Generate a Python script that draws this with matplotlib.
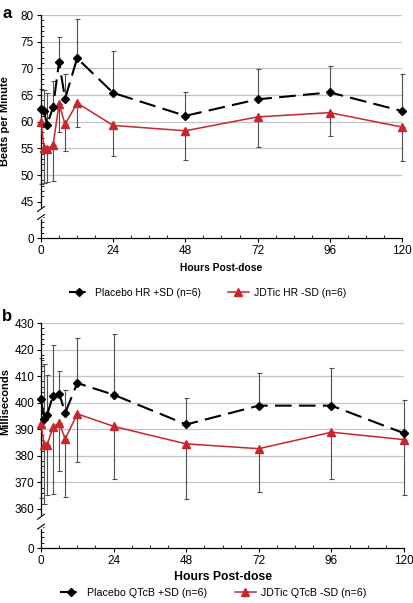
import numpy as np
import matplotlib
matplotlib.use('Agg')
import matplotlib.pyplot as plt

plt.rcParams['font.family'] = ['Liberation Sans', 'DejaVu Sans']

# Data
hours = [0, 1, 2, 4, 6, 8, 12, 24, 48, 72, 96, 120]

placebo_hr = [62.4, 62.0, 59.4, 62.7, 71.2, 64.3, 71.9, 65.4, 61.1, 64.2, 65.5, 62.0]
placebo_hr_sd = [3.8, 4.0, 6.0, 4.9, 4.7, 4.7, 7.4, 7.9, 4.5, 5.6, 5.0, 6.9]
jdtic_hr = [60.0, 55.1, 54.9, 55.6, 63.3, 59.5, 63.5, 59.3, 58.3, 60.9, 61.7, 59.0]
jdtic_hr_sd = [11.7, 6.6, 6.2, 6.7, 5.3, 4.9, 4.5, 5.7, 5.4, 5.7, 4.3, 6.4]

placebo_qtcb = [401.5, 394.0, 395.5, 402.7, 403.4, 396.2, 407.4, 403.0, 391.8, 398.9, 398.9, 388.5]
placebo_qtcb_sd = [15.3, 20.6, 15.1, 19.1, 8.6, 8.5, 17.0, 23.0, 10.0, 12.1, 14.1, 12.5]
jdtic_qtcb = [392.1, 384.1, 384.1, 390.9, 392.4, 386.4, 395.8, 391.1, 384.5, 382.7, 388.9, 386.1]
jdtic_qtcb_sd = [28.0, 22.1, 19.0, 25.4, 18.2, 21.8, 18.3, 19.8, 20.9, 16.4, 17.5, 21.0]

RED = '#c8252c'
GRID = '#c4c4c4'
EBAR = '#505050'


def broken_axis(ax, low, gap):
    # compress 0..low into a short stub of height `gap`
    def fwd(y):
        y = np.asarray(y, dtype=float)
        return np.where(y >= low, y - low + gap, y * gap / low)

    def inv(u):
        u = np.asarray(u, dtype=float)
        return np.where(u >= gap, u + low - gap, u * low / gap)

    ax.set_yscale('function', functions=(fwd, inv))


def draw_panel(ax, placebo, placebo_sd, jdtic, jdtic_sd, low, top, step,
               minor_step, gap, brk, lab_placebo, lab_jdtic, ylabel,
               xlabel_size, leg_size, ylab_y, leg_x, leg_y, xlab_y):
    broken_axis(ax, low, gap)
    zeros = np.zeros(len(hours))
    for vals, err in [(placebo, [zeros, placebo_sd]), (jdtic, [jdtic_sd, zeros])]:
        eb = ax.errorbar(hours, vals, yerr=err, fmt='none', ecolor=EBAR,
                         elinewidth=0.8, capsize=1.8, capthick=0.8, zorder=2)
        for art in eb.lines[1] + eb.lines[2]:
            art.set_clip_on(False)
    ax.plot(hours, placebo, color='black', lw=1.5, dashes=(8, 3.5),
            marker='D', markersize=4.2, zorder=4, label=lab_placebo, clip_on=False)
    ax.plot(hours, jdtic, color=RED, lw=1.1, marker='^', markersize=5.5,
            zorder=3, label=lab_jdtic, clip_on=False)

    grid_vals = np.arange(low + step, top + 0.1, step)
    ax.hlines(grid_vals, 0, 120, colors=GRID, lw=0.9, zorder=0)

    ax.set_xlim(0, 120)
    ax.set_ylim(0, top)
    ax.set_xticks(np.arange(0, 121, 24))
    ax.set_xticks(np.arange(0, 121, 6), minor=True)
    ax.set_yticks([0] + list(np.arange(low, top + 0.1, step)))
    minor_hi = [v for v in np.arange(low, top + 0.1, minor_step)
                if (v - low) % step != 0]
    minor_lo = [k * minor_step * low / gap for k in range(1, int(gap / minor_step * 0.6) + 1)]
    ax.set_yticks(minor_lo + minor_hi, minor=True)
    ax.set_yticklabels([str(int(v)) for v in ax.get_yticks()])

    ax.tick_params(axis='both', which='major', direction='out', length=3,
                   width=0.8, labelsize=8.5, pad=2)
    ax.tick_params(axis='both', which='minor', direction='in', length=2, width=0.6)
    for s in ['top', 'right']:
        ax.spines[s].set_visible(False)
    for s in ['left', 'bottom']:
        ax.spines[s].set_linewidth(0.9)

    # axis break marks
    b1, b2 = brk
    ax.plot([0, 0], [b2, b1], transform=ax.transAxes, color='white', lw=2.5,
            clip_on=False, zorder=5)
    dx, dy = 0.0095, 0.011
    for b in brk:
        ax.plot([-dx, dx], [b - dy, b + dy], transform=ax.transAxes,
                color='black', lw=0.8, clip_on=False, zorder=6)

    ax.set_ylabel(ylabel, fontsize=8, fontweight='bold')
    ax.yaxis.set_label_coords(-0.086, ylab_y)
    ax.set_xlabel('Hours Post-dose', fontsize=xlabel_size, fontweight='bold')
    ax.xaxis.set_label_coords(0.5, xlab_y)
    ax.legend(loc='center', bbox_to_anchor=(leg_x, leg_y), ncol=2,
              frameon=False, fontsize=leg_size, handlelength=2.0,
              columnspacing=2.6, handletextpad=0.5)


fig = plt.figure(figsize=(4.13, 6.03), dpi=100)
ax_a = fig.add_axes([0.0993, 0.6053, 0.874, 0.3698])
ax_b = fig.add_axes([0.0993, 0.0912, 0.879, 0.3731])

draw_panel(ax_a, placebo_hr, placebo_hr_sd, jdtic_hr, jdtic_hr_sd,
           low=45, top=80, step=5, minor_step=1, gap=6.8, brk=(0.130, 0.094),
           lab_placebo='Placebo HR +SD (n=6)', lab_jdtic='JDTic HR -SD (n=6)',
           ylabel='Beats per Minute', xlabel_size=7.4, leg_size=7.5, ylab_y=0.525,
           leg_x=0.461, leg_y=-0.247, xlab_y=-0.11)
draw_panel(ax_b, placebo_qtcb, placebo_qtcb_sd, jdtic_qtcb, jdtic_qtcb_sd,
           low=360, top=430, step=10, minor_step=2, gap=14.7, brk=(0.139, 0.095),
           lab_placebo='Placebo QTcB +SD (n=6)', lab_jdtic='JDTic QTcB -SD (n=6)',
           ylabel='Milliseconds', xlabel_size=8.8, leg_size=7.7, ylab_y=0.649,
           leg_x=0.475, leg_y=-0.2, xlab_y=-0.1)

fig.text(0.005, 0.99, 'a', fontsize=12, fontweight='bold', va='top')
fig.text(0.005, 0.487, 'b', fontsize=12, fontweight='bold', va='top')

fig.savefig('out.png', dpi=100)
